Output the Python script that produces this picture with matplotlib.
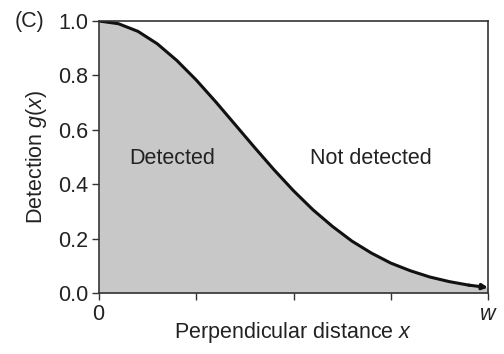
import matplotlib
matplotlib.use("Agg")
import matplotlib.pyplot as plt
import numpy as np

plt.rcParams['font.family'] = ['Liberation Sans', 'DejaVu Sans']
plt.rcParams['mathtext.fontset'] = 'custom'
plt.rcParams['mathtext.rm'] = 'Liberation Sans'
plt.rcParams['mathtext.it'] = 'Liberation Sans:italic'

# detection curve (x as a fraction of w)
dist = [0.0, 0.05, 0.1, 0.15, 0.2, 0.25, 0.3, 0.35, 0.4, 0.45, 0.5,
        0.55, 0.6, 0.65, 0.7, 0.75, 0.8, 0.85, 0.9, 0.95, 1.0]
detect = [1.0, 0.99, 0.962, 0.916, 0.855, 0.783, 0.703, 0.619, 0.535, 0.453, 0.376,
          0.306, 0.245, 0.191, 0.147, 0.110, 0.082, 0.059, 0.042, 0.029, 0.020]
yticks = [0.0, 0.2, 0.4, 0.6, 0.8, 1.0]
xticks = [0, 0.25, 0.5, 0.75, 1.0]
xlabels = ['$0$', '', '', '', '$w$']

fs = 15.5
fig = plt.figure(figsize=(5.04, 3.54), dpi=100)
ax = fig.add_axes([99/504, 1 - 293/354, 389/504, 272/354])

ax.fill_between(dist, detect, 0, color='#c8c8c8', lw=0)
ax.plot(dist[:-1], detect[:-1], color='#111111', lw=2.2)
ax.annotate('', xy=(dist[-1], detect[-1]), xytext=(dist[-2], detect[-2]),
            arrowprops=dict(arrowstyle='-|>', color='#111111', lw=2.2,
                            mutation_scale=8, shrinkA=0, shrinkB=0))

ax.set_xlim(0, 1)
ax.set_ylim(0, 1)
ax.set_yticks(yticks)
ax.set_yticklabels([f'{v:.1f}' for v in yticks])
ax.set_xticks(xticks)
ax.set_xticklabels(xlabels)
ax.tick_params(direction='out', length=5, width=1, labelsize=fs, color='#333333',
               labelcolor='#222222', pad=3)
for s in ax.spines.values():
    s.set_linewidth(1.2)
    s.set_color('#333333')

ax.set_xlabel('Perpendicular distance $x$', fontsize=fs, labelpad=-4, color='#222222')
ax.set_ylabel('Detection $g$($x$)', fontsize=fs, labelpad=6, color='#222222')

ax.text(0.188, 0.496, 'Detected', fontsize=fs, ha='center', va='center', color='#222222')
ax.text(0.70, 0.496, 'Not detected', fontsize=fs, ha='center', va='center', color='#222222')
fig.text(29/504, 1 - 22/354, '(C)', fontsize=fs, ha='center', va='center', color='#222222')

fig.savefig('out.png', dpi=100)
